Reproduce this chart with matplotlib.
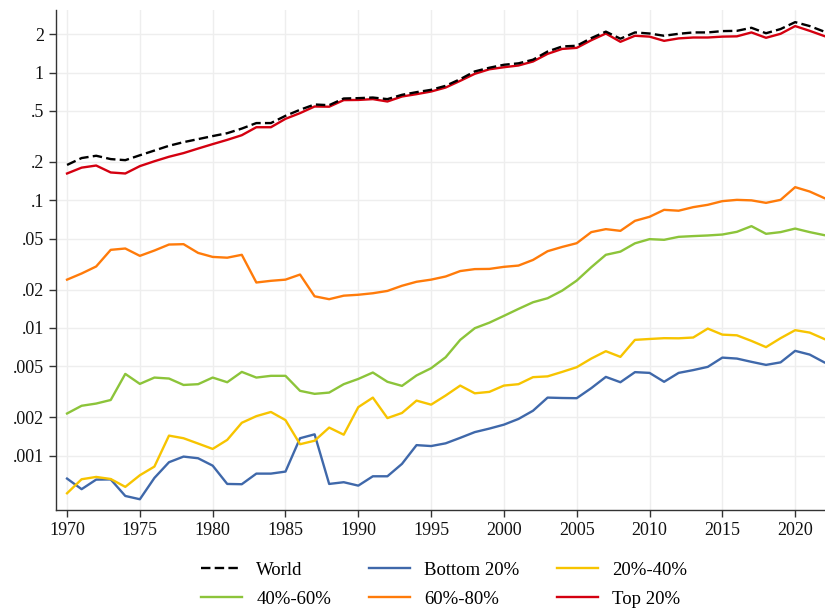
import matplotlib.pyplot as plt
from matplotlib.ticker import FixedLocator, FixedFormatter, NullLocator

years = list(range(1970, 2023))

world = [0.189, 0.214, 0.223, 0.210, 0.206, 0.225, 0.245, 0.267, 0.285, 0.301,
         0.318, 0.335, 0.364, 0.402, 0.402, 0.458, 0.511, 0.562, 0.555, 0.626,
         0.630, 0.637, 0.619, 0.669, 0.702, 0.732, 0.787, 0.887, 1.02, 1.09,
         1.15, 1.18, 1.26, 1.46, 1.60, 1.62, 1.86, 2.09, 1.84, 2.06,
         2.02, 1.94, 2.01, 2.06, 2.06, 2.11, 2.12, 2.24, 2.03, 2.19,
         2.48, 2.31, 2.09]

bottom20 = [0.000662, 0.000547, 0.000650, 0.000652, 0.000484, 0.000456, 0.000670, 0.000889, 0.000984, 0.000955,
            0.000836, 0.000601, 0.000598, 0.000724, 0.000724, 0.000751, 0.00137, 0.00147, 0.000601, 0.000620,
            0.000583, 0.000690, 0.000690, 0.000863, 0.00121, 0.00119, 0.00125, 0.00138, 0.00153, 0.00163,
            0.00175, 0.00194, 0.00225, 0.00285, 0.00283, 0.00282, 0.00338, 0.00414, 0.00376, 0.00451,
            0.00445, 0.00379, 0.00445, 0.00468, 0.00496, 0.00586, 0.00576, 0.00543, 0.00514, 0.00538,
            0.00662, 0.00619, 0.00538]

q20_40 = [0.000508, 0.000654, 0.000682, 0.000657, 0.000570, 0.000703, 0.000822, 0.001436, 0.00137, 0.001245,
          0.00113, 0.00133, 0.00181, 0.00204, 0.00220, 0.00190, 0.00123, 0.00131, 0.00166, 0.00146,
          0.00240, 0.00285, 0.00197, 0.00216, 0.00270, 0.00251, 0.00296, 0.00354, 0.00308, 0.00316,
          0.00354, 0.00363, 0.00412, 0.00418, 0.00453, 0.00493, 0.00576, 0.00658, 0.00594, 0.00807,
          0.00820, 0.00832, 0.00830, 0.00842, 0.00989, 0.00887, 0.00876, 0.00792, 0.00708, 0.00832,
          0.00961, 0.00920, 0.00820]

q40_60 = [0.00214, 0.00246, 0.00256, 0.00273, 0.00437, 0.00365, 0.00409, 0.00402, 0.00358, 0.00363,
          0.00409, 0.00376, 0.00453, 0.00409, 0.00422, 0.00422, 0.00322, 0.00305, 0.00312, 0.00363,
          0.00399, 0.00448, 0.00379, 0.00352, 0.00425, 0.00484, 0.00590, 0.00807, 0.00996, 0.0110,
          0.01244, 0.0141, 0.0159, 0.0171, 0.0196, 0.0235, 0.0299, 0.0374, 0.0396, 0.0460,
          0.0496, 0.0490, 0.0517, 0.0524, 0.0530, 0.0539, 0.0566, 0.0627, 0.0546, 0.0563,
          0.0600, 0.0563, 0.0533]

q60_80 = [0.0239, 0.0267, 0.0303, 0.0409, 0.0419, 0.0367, 0.0404, 0.0450, 0.0453, 0.0387,
          0.0360, 0.0355, 0.0374, 0.0227, 0.0234, 0.0239, 0.0262, 0.0177, 0.0168, 0.0179,
          0.0182, 0.0187, 0.0195, 0.0214, 0.0230, 0.0239, 0.0253, 0.0279, 0.0289, 0.0290,
          0.0301, 0.0308, 0.0341, 0.0399, 0.0431, 0.0461, 0.0563, 0.0594, 0.0576, 0.0690,
          0.0742, 0.0841, 0.0828, 0.0883, 0.0921, 0.0984, 0.1007, 0.0998, 0.0954, 0.1007,
          0.1266, 0.117, 0.104]

top20 = [0.162, 0.180, 0.187, 0.165, 0.162, 0.185, 0.202, 0.219, 0.234, 0.254,
         0.275, 0.297, 0.323, 0.373, 0.373, 0.434, 0.481, 0.542, 0.540, 0.608,
         0.610, 0.619, 0.593, 0.649, 0.677, 0.710, 0.763, 0.861, 0.977, 1.06,
         1.10, 1.135, 1.22, 1.40, 1.53, 1.56, 1.79, 2.02, 1.74, 1.94,
         1.91, 1.77, 1.85, 1.88, 1.88, 1.91, 1.92, 2.06, 1.87, 2.01,
         2.31, 2.12, 1.93]

ytick_vals = [0.001, 0.002, 0.005, 0.01, 0.02, 0.05, 0.1, 0.2, 0.5, 1, 2]
ytick_labels = [".001", ".002", ".005", ".01", ".02", ".05", ".1", ".2", ".5", "1", "2"]
xtick_vals = list(range(1970, 2021, 5))

plt.rcParams["font.family"] = ["Liberation Serif", "DejaVu Serif"]
plt.rcParams["font.size"] = 13

fig = plt.figure(figsize=(8.25, 6.1), dpi=100)
ax = fig.add_axes([0.0675, 0.164, 0.9325, 0.82])

lw = 1.7
l_world, = ax.plot(years, world, color="black", lw=lw, dashes=(4, 1.8), label="World", zorder=5)
l_b20, = ax.plot(years, bottom20, color="#3f68aa", lw=lw, label="Bottom 20%")
l_q2, = ax.plot(years, q20_40, color="#f7c400", lw=lw, label="20%-40%")
l_q3, = ax.plot(years, q40_60, color="#8cc43a", lw=lw, label="40%-60%")
l_q4, = ax.plot(years, q60_80, color="#ff7b0a", lw=lw, label="60%-80%")
l_t20, = ax.plot(years, top20, color="#d40010", lw=lw, label="Top 20%", zorder=4)

ax.set_yscale("log")
ax.set_ylim(0.000376, 3.1)
ax.set_xlim(1969.22, 2022.05)
ax.yaxis.set_major_locator(FixedLocator(ytick_vals))
ax.yaxis.set_major_formatter(FixedFormatter(ytick_labels))
ax.yaxis.set_minor_locator(NullLocator())
ax.set_xticks(xtick_vals)

ax.grid(True, color="#eeeeee", lw=1.0)
ax.set_axisbelow(True)
for side in ("top", "right"):
    ax.spines[side].set_visible(False)
for side in ("left", "bottom"):
    ax.spines[side].set_color("#333333")
    ax.spines[side].set_linewidth(1.0)
ax.tick_params(axis="both", direction="out", length=5, width=1.0, color="#333333",
               labelsize=13, labelcolor="#111111")

# legend fills column by column, so order the handles to read row by row
order = [l_world, l_q3, l_b20, l_q4, l_q2, l_t20]
leg = ax.legend(handles=order, labels=[h.get_label() for h in order],
                loc="upper center", bbox_to_anchor=(0.505, -0.07), ncol=3, frameon=False,
                handlelength=2.2, handletextpad=0.75, columnspacing=2.0, labelspacing=0.62,
                fontsize=13.5)

fig.savefig("out.png", dpi=100)
